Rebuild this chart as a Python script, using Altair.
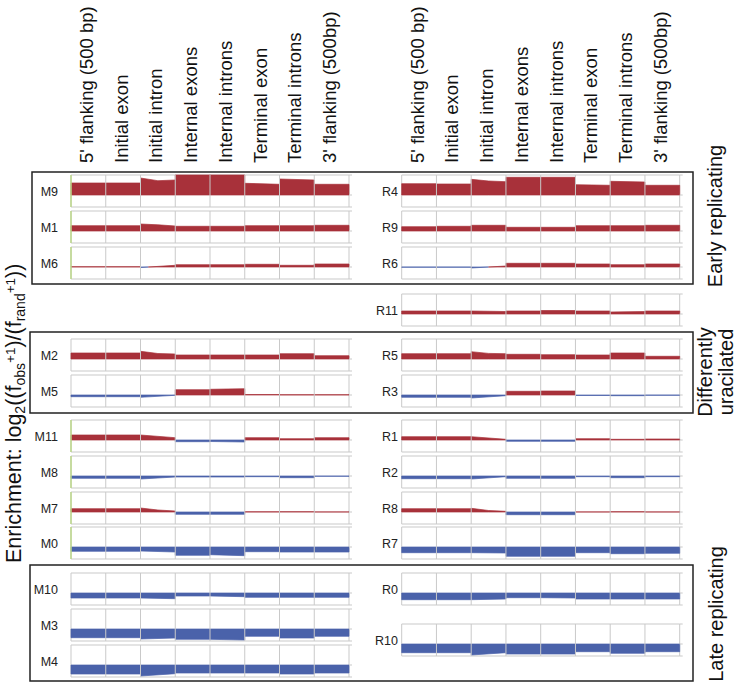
import altair as alt
import pandas as pd

# ---------------- data ----------------
SEGMENTS = ["5' flanking (500 bp)", "Initial exon", "Initial intron", "Internal exons",
            "Internal introns", "Terminal exon", "Terminal introns", "3' flanking (500bp)"]

# enrichment per segment; a tuple = values read along the segment (start, [middle,] end)
M9 = [1.2, 1.2, (1.7, 1.43, 1.5), 2.0, 2.0, (1.17, 1.07), (1.6, 1.5), 1.07]
M1 = [0.53, 0.53, (0.7, 0.62, 0.5), 0.47, 0.47, 0.53, 0.53, 0.57]
M6 = [0.03, 0.03, (-0.05, 0.17), 0.23, 0.23, 0.27, 0.17, 0.3]
M2 = [0.6, 0.6, (0.77, 0.55, 0.5), 0.4, 0.4, 0.4, 0.53, 0.33]
M5 = [-0.17, -0.17, (-0.23, -0.03), 0.53, (0.57, 0.63), 0.05, 0.03, 0.03]
M11 = [0.5, 0.5, (0.5, 0.23), -0.17, (-0.15, -0.2), 0.23, 0.13, 0.23]
M8 = [-0.23, -0.23, (-0.3, -0.1), -0.1, -0.1, -0.07, -0.17, -0.03]
M7 = [0.33, 0.33, (0.4, 0.2, 0.1), -0.23, -0.23, 0.02, 0.03, 0.01]
M0 = [-0.43, -0.43, (-0.4, -0.5), -0.83, (-0.77, -0.87), -0.47, -0.5, -0.5]
M10 = [-0.5, -0.5, (-0.5, -0.57), -0.3, (-0.3, -0.37), -0.43, -0.43, -0.43]
M3 = [-0.87, -0.87, (-1.0, -0.9), -1.03, (-1.03, -1.1), -0.73, -0.9, -0.73]
M4 = [-0.9, -0.9, (-1.1, -0.87), -0.8, -0.8, -0.8, -0.9, -0.8]

R4 = [1.13, 1.1, (1.57, 1.4, 1.33), 1.77, 1.77, (1.03, 0.97), (1.37, 1.3), 0.97]
R9 = [0.43, 0.47, 0.57, 0.37, 0.37, 0.53, 0.53, 0.57]
R6 = [-0.02, -0.02, (-0.1, 0.1), 0.37, 0.37, 0.3, 0.23, 0.3]
R11 = [0.3, 0.3, (0.3, 0.25), 0.3, 0.35, 0.3, (0.2, 0.25), 0.3]
R5 = [0.53, 0.53, (0.73, 0.56, 0.53), 0.47, 0.43, 0.4, 0.6, 0.27]
R3 = [-0.23, -0.23, (-0.3, -0.07), 0.37, 0.4, -0.05, -0.07, -0.03]
R1 = [0.33, 0.33, (0.33, 0.07), -0.13, -0.13, 0.13, 0.07, 0.1]
R2 = [-0.27, -0.27, (-0.3, -0.07), -0.23, -0.23, -0.07, -0.17, -0.07]
R8 = [0.33, 0.33, (0.37, 0.15, 0.07), -0.27, -0.27, 0.01, 0.03, 0.01]
R7 = [-0.57, -0.57, (-0.57, -0.6), -0.93, -0.93, -0.57, -0.67, -0.63]
R0 = [-0.67, -0.67, (-0.67, -0.6), -0.47, (-0.47, -0.5), -0.6, -0.6, -0.6]
R10 = [-0.87, -0.87, (-1.1, -0.87), -1.0, -1.0, -0.77, -0.93, -0.77]

LEFT_ROWS = ["M9", "M1", "M6", "M2", "M5", "M11", "M8", "M7", "M0", "M10", "M3", "M4"]
RIGHT_ROWS = ["R4", "R9", "R6", "R11", "R5", "R3", "R1", "R2", "R8", "R7", "R0", "R10"]
VALUES = {"M9": M9, "M1": M1, "M6": M6, "M2": M2, "M5": M5, "M11": M11, "M8": M8,
          "M7": M7, "M0": M0, "M10": M10, "M3": M3, "M4": M4,
          "R4": R4, "R9": R9, "R6": R6, "R11": R11, "R5": R5, "R3": R3, "R1": R1,
          "R2": R2, "R8": R8, "R7": R7, "R0": R0, "R10": R10}
GREEN_EDGE = ["M9", "M1", "M6", "M11", "M8", "M7", "M0"]

# ---------------- layout (pixels) ----------------
W, H = 738, 687
SEG_PX = 34.75
LEFT_X0, RIGHT_X0 = 71.0, 401.7
PANEL_H, ZERO_OFF, PX_PER_UNIT = 32, 20, 10.0
LEFT_TOPS = [175, 211, 247, 339, 375, 420, 456, 492, 527, 573, 609, 645]
RIGHT_TOPS = [175, 211, 247, 294, 339, 375, 420, 456, 492, 527, 573, 624]
BOXES = [(32, 693, 172, 284), (30, 693, 332, 413), (30, 693, 565, 681)]

RED, BLUE = "#a8313a", "#4a62aa"
GRID = "#c9c9c9"
FONT = "Liberation Sans"


def ux(px):
    return (px - LEFT_X0) / SEG_PX


def uy(py):
    return -py / PX_PER_UNIT


RIGHT_G = ux(RIGHT_X0)

panels, areas, dividers, ticks, greens, labels = [], [], [], [], [], []
pid = 0
for rows, tops, g, lab_px in [(LEFT_ROWS, LEFT_TOPS, 0.0, 58), (RIGHT_ROWS, RIGHT_TOPS, RIGHT_G, 398)]:
    for name, top in zip(rows, tops):
        base = uy(top + ZERO_OFF)
        yt, yb = uy(top), uy(top + PANEL_H)
        panels.append({"x": g, "x2": g + 8, "y": yt, "y2": yb})
        for k in range(1, 8):
            dividers.append({"x": g + k, "y": yt, "y2": yb})
        for yy in (yt, base, yb):
            ticks.append({"x": g + 8, "x2": g + 8 + 3 / SEG_PX, "y": yy})
        if name in GREEN_EDGE:
            greens.append({"x": g, "y": yt, "y2": yb})
        labels.append({"x": ux(lab_px), "y": uy(top + 16.5), "t": name})
        for k, v in enumerate(VALUES[name]):
            vals = list(v) if isinstance(v, tuple) else [v, v]
            n = len(vals) - 1
            pts = [(k + i / n, vals[i]) for i in range(n + 1)]
            # split where the profile crosses zero so each piece has one sign
            pieces = []
            cur = [pts[0]]
            for (x0, v0), (x1, v1) in zip(pts[:-1], pts[1:]):
                if v0 * v1 < 0:
                    xc = x0 + (x1 - x0) * v0 / (v0 - v1)
                    cur.append((xc, 0.0))
                    pieces.append(cur)
                    cur = [(xc, 0.0)]
                cur.append((x1, v1))
            pieces.append(cur)
            for pc in pieces:
                s = "pos" if sum(p[1] for p in pc) >= 0 else "neg"
                for xx, vv in pc:
                    areas.append({"piece": pid, "x": g + xx, "y": base + vv, "y2": base, "sign": s})
                pid += 1

headers = []
for g, x0 in [(0.0, LEFT_X0), (RIGHT_G, RIGHT_X0)]:
    for k, s in enumerate(SEGMENTS):
        headers.append({"x": ux(x0 + (k + 0.5) * SEG_PX - 1.5), "y": uy(163), "t": s})

boxes = [{"x": ux(a), "x2": ux(b), "y": uy(c), "y2": uy(d)} for a, b, c, d in BOXES]

group_lab = [
    {"x": ux(716), "y": uy(216), "t": "Early replicating"},
    {"x": ux(706), "y": uy(372), "t": "Differently"},
    {"x": ux(727), "y": uy(372), "t": "uracilated"},
    {"x": ux(717), "y": uy(614), "t": "Late replicating"},
]

# y-axis title built from pieces (main / subscript / superscript)
ARIAL = {"E": 667, "n": 556, "r": 333, "i": 222, "c": 500, "h": 556, "m": 833, "e": 556,
         "t": 278, ":": 278, " ": 278, "l": 222, "o": 556, "g": 556, "2": 556, "(": 333,
         "f": 278, "b": 556, "s": 500, "+": 584, "1": 556, ")": 333, "/": 278, "a": 556,
         "d": 556}
TITLE = [("Enrichment: log", "m"), ("2", "sub"), ("((f", "m"), ("obs", "sub"), ("+1", "sup"),
         (")/(f", "m"), ("rand", "sub"), ("+1", "sup"), ("))", "m")]
FS = {"m": 21.5, "sub": 14, "sup": 13.5}
BASE_X = {"m": 20.5, "sub": 24.5, "sup": 14.5}
widths = [sum(ARIAL[c] for c in s) / 1000 * FS[k] for s, k in TITLE]
ycur = 563
title_rows = []
for (s, k), w in zip(TITLE, widths):
    title_rows.append({"x": ux(BASE_X[k]), "y": uy(ycur), "t": s, "fs": FS[k]})
    ycur -= w

# ---------------- chart ----------------
XS = alt.Scale(domain=[ux(0), ux(W)], nice=False, zero=False)
YS = alt.Scale(domain=[uy(H), 0], nice=False, zero=False)


def X(f="x"):
    return alt.X(f"{f}:Q", scale=XS, axis=None)


def Y(f="y"):
    return alt.Y(f"{f}:Q", scale=YS, axis=None, stack=None)


panel_l = alt.Chart(pd.DataFrame(panels)).mark_rect(fill="white", stroke=GRID, strokeWidth=1).encode(
    x=X(), x2="x2:Q", y=Y(), y2="y2:Q")

color_scale = alt.Scale(domain=["pos", "neg"], range=[RED, BLUE])
area_l = alt.Chart(pd.DataFrame(areas)).mark_area(strokeWidth=0.7).encode(
    x=X(), y=Y(), y2="y2:Q",
    color=alt.Color("sign:N", scale=color_scale, legend=None),
    stroke=alt.Stroke("sign:N", scale=color_scale, legend=None),
    detail="piece:N")

div_l = alt.Chart(pd.DataFrame(dividers)).mark_rule(color=GRID, strokeWidth=1).encode(
    x=X(), y=Y(), y2="y2:Q")
tick_l = alt.Chart(pd.DataFrame(ticks)).mark_rule(color=GRID, strokeWidth=1).encode(
    x=X(), x2="x2:Q", y=Y())
green_l = alt.Chart(pd.DataFrame(greens)).mark_rule(color="#bcd98a", strokeWidth=1.5).encode(
    x=X(), y=Y(), y2="y2:Q")
box_l = alt.Chart(pd.DataFrame(boxes)).mark_rect(filled=False, stroke="#222222", strokeWidth=1.5).encode(
    x=X(), x2="x2:Q", y=Y(), y2="y2:Q")

lab_l = alt.Chart(pd.DataFrame(labels)).mark_text(
    align="right", baseline="middle", font=FONT, fontSize=12.5, color="#222222").encode(
    x=X(), y=Y(), text="t:N")
head_l = alt.Chart(pd.DataFrame(headers)).mark_text(
    angle=270, align="left", baseline="middle", font=FONT, fontSize=18.5, color="#111111").encode(
    x=X(), y=Y(), text="t:N")
grp_l = alt.Chart(pd.DataFrame(group_lab)).mark_text(
    angle=270, align="center", baseline="middle", font=FONT, fontSize=20, color="#111111").encode(
    x=X(), y=Y(), text="t:N")
title_l = alt.Chart(pd.DataFrame(title_rows)).mark_text(
    angle=270, align="left", baseline="alphabetic", font=FONT, color="#111111").encode(
    x=X(), y=Y(), text="t:N", size=alt.Size("fs:Q", scale=None))

chart = alt.layer(panel_l, area_l, div_l, tick_l, green_l, box_l, lab_l, head_l, grp_l, title_l).properties(
    width=W, height=H, padding=0, autosize="none", background="white"
).configure_view(stroke=None)

chart.save("out.html", embed_options={"renderer": "svg", "actions": False})
